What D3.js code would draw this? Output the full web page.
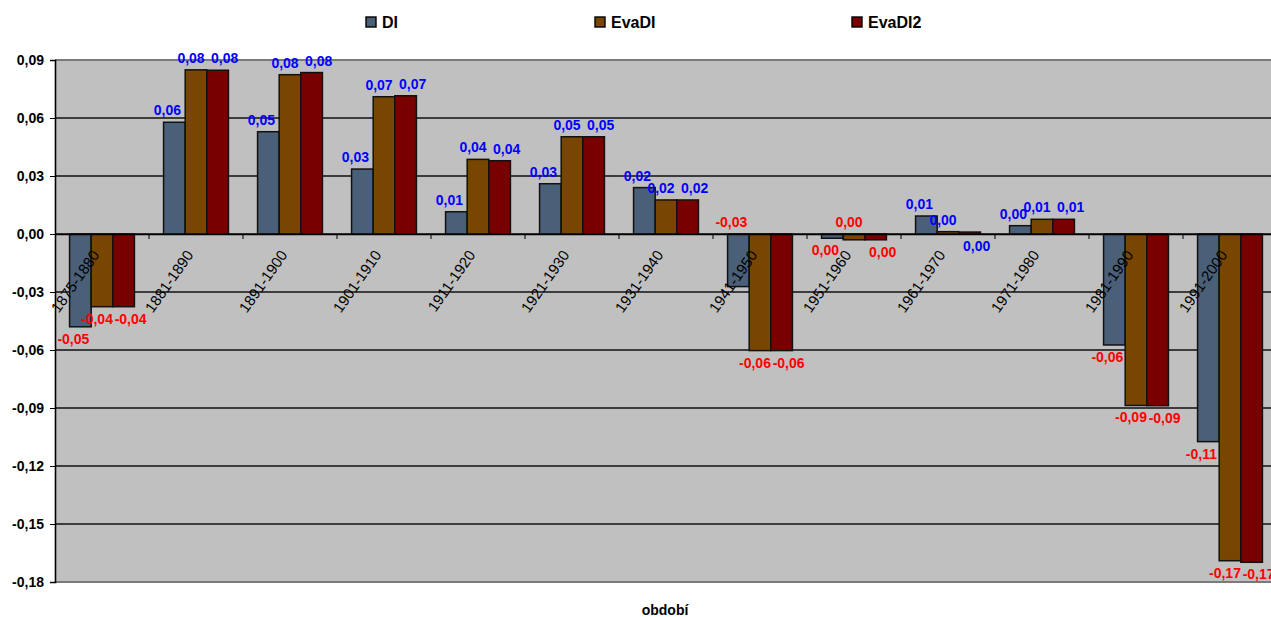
<!DOCTYPE html>
<html><head><meta charset="utf-8">
<script src="https://cdn.jsdelivr.net/npm/d3@7"></script>
<style>body{margin:0;background:#fff;} svg{display:block;font-family:Arial,"Liberation Sans",sans-serif;}</style>
</head><body>
<svg id="c" width="1271" height="617"></svg>
<script>
const categories = ["1875-1880","1881-1890","1891-1900","1901-1910","1911-1920","1921-1930","1931-1940","1941-1950","1951-1960","1961-1970","1971-1980","1981-1990","1991-2000"];
const seriesNames = ["DI","EvaDI","EvaDI2"];
const DI     = [-0.048, 0.0578, 0.0529, 0.0336, 0.0115, 0.026, 0.024, -0.0272, -0.0022, 0.0093, 0.0043, -0.0574, -0.1074];
const EvaDI  = [-0.0376, 0.0849, 0.0824, 0.071, 0.0386, 0.0503, 0.0176, -0.0603, -0.003, 0.0012, 0.0076, -0.0887, -0.169];
const EvaDI2 = [-0.0376, 0.0847, 0.0835, 0.0715, 0.0379, 0.0503, 0.0176, -0.0603, -0.003, 0.001, 0.0076, -0.0888, -0.1698];
const yTicks = [0.09,0.06,0.03,0,-0.03,-0.06,-0.09,-0.12,-0.15,-0.18];
const colors = ["#4a5f78","#784600","#780000"];
const xTitle = "období";

const values = [DI, EvaDI, EvaDI2];
const svg = d3.select("#c");
const L = 55, T = 60, B = 582, R = 55 + 13*94;
const x = d3.scaleBand().domain(categories).range([L, R]).padding(0);
const groupW = x.bandwidth()*0.69;
const xs = d3.scaleBand().domain(seriesNames).range([-groupW/2, groupW/2]).padding(0);
const y = d3.scaleLinear().domain([-0.18, 0.09]).range([B, T]);
const fmt = v => v.toFixed(2).replace(".", ",").replace(/^-0,00$/, "0,00");
const labelShift = [-7, -5, 7];

// plot background
svg.append("rect").attr("x", L).attr("y", T).attr("width", 1271 - L).attr("height", B - T).attr("fill", "#c0c0c0");
// gridlines
svg.append("g").selectAll("line").data(yTicks).join("line")
  .attr("x1", L).attr("x2", 1271).attr("y1", d => y(d)).attr("y2", d => y(d))
  .attr("stroke", d => (d === 0.09 || d === -0.18) ? "#7a7a7a" : "#111").attr("stroke-width", d => (d === 0.09 || d === -0.18) ? 2.2 : 1.4);

// bars
const data = [];
categories.forEach((c, i) => seriesNames.forEach((s, j) => data.push({c, s, j, v: values[j][i]})));
svg.append("g").selectAll("rect").data(data).join("rect")
  .attr("x", d => x(d.c) + x.bandwidth()/2 + xs(d.s))
  .attr("width", xs.bandwidth())
  .attr("y", d => Math.min(y(d.v), y(0)))
  .attr("height", d => Math.abs(y(d.v) - y(0)))
  .attr("fill", d => colors[d.j])
  .attr("stroke", "#111").attr("stroke-width", 1.5);

// y axis
const yAxis = d3.axisLeft(y).tickValues(yTicks).tickSize(5).tickFormat(d => d.toFixed(2).replace(".", ","));
const ga = svg.append("g").attr("transform", `translate(${L},0)`).call(yAxis);
ga.select(".domain").attr("stroke", "#000").attr("stroke-width", 1.6);
ga.selectAll(".tick line").attr("stroke", "#000");
ga.selectAll("text").attr("font-size", 14).attr("font-weight", "bold").attr("fill", "#000").attr("x", -11)
  .attr("font-family", "Arial, 'Liberation Sans', sans-serif");

// x axis at zero
const xAxis = d3.axisBottom(x).tickSize(0).tickFormat("");
const gx = svg.append("g").attr("transform", `translate(0,${y(0)})`).call(xAxis);
gx.select(".domain").attr("stroke", "#000").attr("stroke-width", 1.3);
svg.append("g").selectAll("line").data(categories.slice(1)).join("line")
  .attr("x1", d => x(d)).attr("x2", d => x(d)).attr("y1", y(0)).attr("y2", y(0) + 5)
  .attr("stroke", "#000");

// category labels
svg.append("g").selectAll("text").data(categories).join("text")
  .attr("transform", d => `translate(${x(d) + x.bandwidth()/2 - 2},${y(0) + 21}) rotate(-55)`)
  .attr("text-anchor", "end").attr("font-size", 15).attr("fill", "#000").text(d => d);

// data labels
const labelAbove = d => {
  if (d.c === "1951-1960" && d.s === "EvaDI") return true;
  if (d.c === "1941-1950" && d.s === "DI") return true;
  if (d.c === "1961-1970" && d.s === "EvaDI2") return false;
  return d.v >= 0;
};
svg.append("g").selectAll("text").data(data).join("text")
  .attr("x", d => x(d.c) + x.bandwidth()/2 + xs(d.s) + xs.bandwidth()/2 + labelShift[d.j])
  .attr("y", d => labelAbove(d) ? Math.min(y(d.v), y(0)) - 7 : Math.max(y(d.v), y(0)) + 17)
  .attr("text-anchor", "middle").attr("font-size", 14).attr("font-weight", "bold")
  .attr("fill", d => d.v >= 0 ? "#0000ff" : "#ff0000")
  .text(d => fmt(d.v));

// legend
const legX = [366, 595, 852];
const lg = svg.append("g").selectAll("g").data(seriesNames).join("g")
  .attr("transform", (d, i) => `translate(${legX[i]},17)`);
lg.append("rect").attr("width", 10).attr("height", 10).attr("fill", (d, i) => colors[i]).attr("stroke", "#000").attr("stroke-width", 1.4);
lg.append("text").attr("x", 16).attr("y", 11).attr("font-size", 16).attr("font-weight", "bold").attr("fill", "#000").text(d => d);

// x title
svg.append("text").attr("x", 665).attr("y", 615).attr("text-anchor", "middle").attr("font-size", 14).attr("font-weight", "bold").text(xTitle);
</script>
</body></html>
